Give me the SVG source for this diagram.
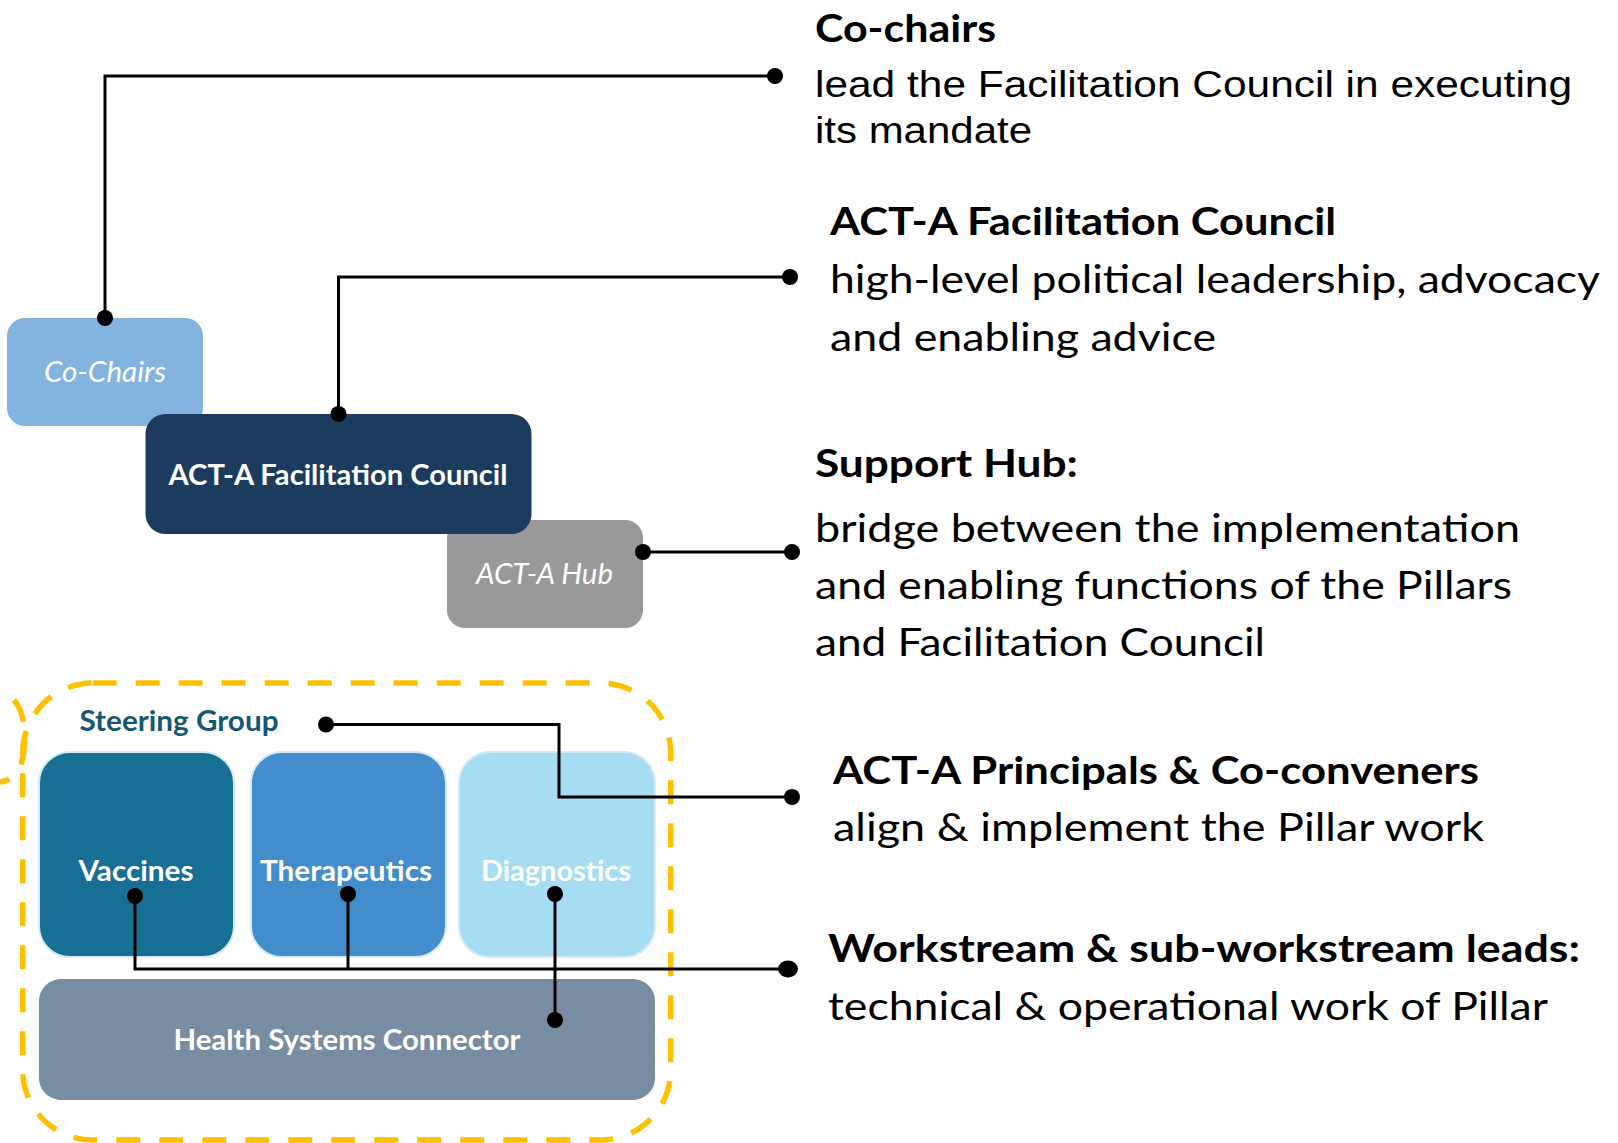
<svg xmlns="http://www.w3.org/2000/svg" width="1618" height="1143" viewBox="0 0 1618 1143">
<style>
.hd{font-family:Lato,"Open Sans","Liberation Sans",sans-serif;font-weight:700;font-size:38px;fill:#000}
.bd{font-family:Lato,"Open Sans","Liberation Sans",sans-serif;font-size:38px;fill:#000}
.ar{font-family:"Liberation Sans",Arial,sans-serif;font-size:36px;fill:#000}
.lb{font-family:Lato,"Open Sans","Liberation Sans",sans-serif;font-weight:700;font-size:28px;fill:#fff}
.li{font-family:Lato,"Open Sans","Liberation Sans",sans-serif;font-style:italic;font-size:28px;fill:#fff}
.ln{fill:none;stroke:#000;stroke-width:3}
.dot{fill:#000}
.dash{fill:none;stroke:#ffc000;stroke-width:5.5;stroke-dasharray:24 19}
.pil{stroke:#d3eaf7;stroke-width:2}
</style>
<rect width="1618" height="1143" fill="#fff"/>

<g id="steering-group-frame">
<rect class="dash" x="22.7" y="683" width="648" height="457" rx="70"/>
<path class="dash" d="M14,700 C24,712 26,730 24,750 C22,770 14,780 0,782"/>
</g>

<g id="co-chairs-node">
<rect x="7" y="318" width="196" height="108" rx="18" fill="#83b3df"/>
<text class="li" x="105" y="382" text-anchor="middle" textLength="122" lengthAdjust="spacingAndGlyphs">Co-Chairs</text>
</g>
<g id="hub-node">
<rect x="447" y="520" width="196" height="108" rx="18" fill="#999999"/>
<text class="li" x="544.5" y="584" text-anchor="middle" textLength="137" lengthAdjust="spacingAndGlyphs">ACT-A Hub</text>
</g>
<g id="facilitation-council-node">
<rect x="145.5" y="414" width="386" height="120" rx="20" fill="#1b3c5e"/>
<text class="lb" x="338" y="485" text-anchor="middle" textLength="339" lengthAdjust="spacingAndGlyphs">ACT-A Facilitation Council</text>
</g>

<g id="steering-group-label">
<text class="lb" x="79.5" y="731" style="fill:#155874" textLength="199" lengthAdjust="spacingAndGlyphs">Steering Group</text>
</g>
<g id="vaccines-node">
<rect class="pil" x="39" y="752" width="195" height="205" rx="31" fill="#176f94"/>
<text class="lb" x="136" y="881" text-anchor="middle" textLength="115" lengthAdjust="spacingAndGlyphs">Vaccines</text>
</g>
<g id="therapeutics-node">
<rect class="pil" x="251" y="752" width="195" height="205" rx="31" fill="#448dcc"/>
<text class="lb" x="346" y="881" text-anchor="middle" textLength="172" lengthAdjust="spacingAndGlyphs">Therapeutics</text>
</g>
<g id="diagnostics-node">
<rect class="pil" x="459" y="752" width="196" height="205" rx="31" fill="#a6ddf3"/>
<text class="lb" x="556" y="881" text-anchor="middle" textLength="150" lengthAdjust="spacingAndGlyphs">Diagnostics</text>
</g>
<g id="health-systems-connector-node">
<rect x="39" y="979" width="616" height="121" rx="22" fill="#788da1"/>
<text class="lb" x="347" y="1050" text-anchor="middle" textLength="347" lengthAdjust="spacingAndGlyphs">Health Systems Connector</text>
</g>

<g id="connectors">
<path class="ln" d="M105,318 V76 H775"/>
<circle class="dot" cx="105" cy="318" r="8"/>
<circle class="dot" cx="775" cy="76" r="8"/>
<path class="ln" d="M338.5,414 V277 H790"/>
<circle class="dot" cx="338.5" cy="414" r="8"/>
<circle class="dot" cx="790" cy="277" r="8"/>
<path class="ln" d="M643,552 H792"/>
<circle class="dot" cx="643" cy="552" r="8"/>
<circle class="dot" cx="792" cy="552" r="8"/>
<path class="ln" d="M326,724.5 H559 V797 H792"/>
<circle class="dot" cx="326" cy="724.5" r="8"/>
<circle class="dot" cx="792" cy="797" r="8"/>
<path class="ln" d="M135,896 V969 H788 M348,894 V969"/>
<circle class="dot" cx="135" cy="896" r="8"/>
<circle class="dot" cx="348" cy="894" r="8"/>
<ellipse class="dot" cx="788" cy="969" rx="10" ry="8.5"/>
<path class="ln" d="M555,894 V1020"/>
<circle class="dot" cx="555" cy="894" r="8"/>
<circle class="dot" cx="555" cy="1020" r="8"/>
</g>

<g id="descriptions">
<text class="hd" x="815" y="42" textLength="181" lengthAdjust="spacingAndGlyphs">Co-chairs</text>
<text class="ar" x="815" y="97" textLength="757" lengthAdjust="spacingAndGlyphs">lead the Facilitation Council in executing</text>
<text class="ar" x="815" y="143" textLength="217" lengthAdjust="spacingAndGlyphs">its mandate</text>

<text class="hd" x="830" y="235" textLength="506" lengthAdjust="spacingAndGlyphs">ACT-A Facilitation Council</text>
<text class="bd" x="830" y="293" textLength="770" lengthAdjust="spacingAndGlyphs">high-level political leadership, advocacy</text>
<text class="bd" x="830" y="351" textLength="386" lengthAdjust="spacingAndGlyphs">and enabling advice</text>

<text class="hd" x="815" y="477" textLength="263" lengthAdjust="spacingAndGlyphs">Support Hub:</text>
<text class="bd" x="815" y="542" textLength="705" lengthAdjust="spacingAndGlyphs">bridge between the implementation</text>
<text class="bd" x="815" y="599" textLength="697" lengthAdjust="spacingAndGlyphs">and enabling functions of the Pillars</text>
<text class="bd" x="815" y="656" textLength="450" lengthAdjust="spacingAndGlyphs">and Facilitation Council</text>

<text class="hd" x="833" y="784" textLength="646" lengthAdjust="spacingAndGlyphs">ACT-A Principals &amp; Co-conveners</text>
<text class="bd" x="833" y="841" textLength="651" lengthAdjust="spacingAndGlyphs">align &amp; implement the Pillar work</text>

<text class="hd" x="828" y="962" textLength="752" lengthAdjust="spacingAndGlyphs">Workstream &amp; sub-workstream leads:</text>
<text class="bd" x="828" y="1020" textLength="720" lengthAdjust="spacingAndGlyphs">technical &amp; operational work of Pillar</text>
</g>
</svg>
